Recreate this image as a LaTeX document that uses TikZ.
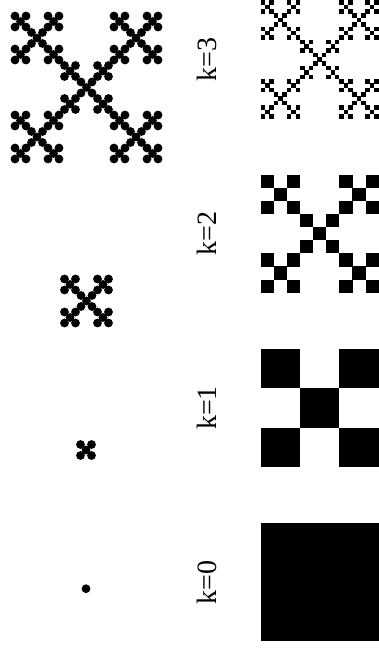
\documentclass[tikz,border=0pt]{standalone}
\usepackage{fontspec}
\setmainfont{Liberation Serif}
\newfontfamily\labfont{Liberation Serif}
\begin{document}
\begin{tikzpicture}[x=1pt,y=-1pt,
  lab/.style={rotate=90, inner sep=0pt, font=\labfont\fontsize{28}{32}\selectfont},
  dotfill/.style={fill=black},
  cellfill/.style={fill=black}]
\useasboundingbox (0,0) rectangle (378,648);
\def\offs{0/0,1/1,1/-1,-1/1,-1/-1}
\def\dr{4.4pt}
% ---------- dot fractals (left column)
\fill[dotfill] (86,588.7) circle (\dr);
\foreach \ax/\ay in \offs
  \fill[dotfill] ({86+5.5*\ax},{450+5.5*\ay}) circle (\dr);
\foreach \ax/\ay in \offs
  \foreach \bx/\by in \offs
    \fill[dotfill] ({86.5+5.5*(3*\ax+\bx)},{301+5.5*(3*\ay+\by)}) circle (\dr);
\foreach \ax/\ay in \offs
  \foreach \bx/\by in \offs
    \foreach \cx/\cy in \offs
      \fill[dotfill] ({86.5+5.5*(9*\ax+3*\bx+\cx)},{87.5+5.5*(9*\ay+3*\by+\cy)}) circle (\dr);
% ---------- labels (middle column)
\node[lab] (l3) at (207,59.4) {k=3};
\node[lab] (l2) at (207,233.7) {k=2};
\node[lab] (l1) at (207,408) {k=1};
\node[lab] (l0) at (207,582.3) {k=0};
% ---------- square fractals (right column)
\fill[cellfill] (260.7,523.3) rectangle +(118,118);
\foreach \ax/\ay in \offs
  \fill[cellfill] ({319.7+39.333*\ax-19.7},{408+39.333*\ay-19.7}) rectangle +(39.4,39.4);
\foreach \ax/\ay in \offs
  \foreach \bx/\by in \offs
    \fill[cellfill] ({319.7+39.333*\ax+13.111*\bx-6.6},{233.7+39.333*\ay+13.111*\by-6.6}) rectangle +(13.2,13.2);
\foreach \ax/\ay in \offs
  \foreach \bx/\by in \offs
    \foreach \cx/\cy in \offs
      \fill[cellfill] ({319.7+39.333*\ax+13.111*\bx+4.370*\cx-2.3},{59.4+39.333*\ay+13.111*\by+4.370*\cy-2.3}) rectangle +(4.6,4.6);
\end{tikzpicture}
\end{document}
